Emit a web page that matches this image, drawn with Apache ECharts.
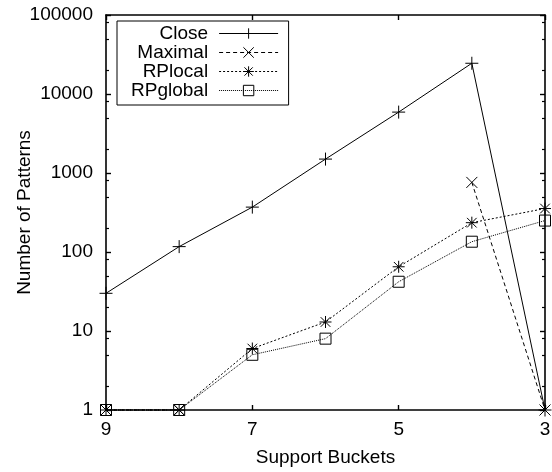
<!DOCTYPE html>
<html>
<head>
<meta charset="utf-8">
<script src="https://cdn.jsdelivr.net/npm/echarts@6/dist/echarts.min.js"></script>
<style>
  html, body { margin: 0; padding: 0; background: #fff; }
  #chart { width: 552px; height: 472px; }
</style>
</head>
<body>
<div id="chart"></div>
<script>
// Support bucket on the x axis, pattern counts (log scale) on the y axis
const supportBuckets = [9, 8, 7, 6, 5, 4, 3];
const closeCounts    = [30, 117, 370, 1500, 5900, 24500, 1];
const maximalCounts  = [1, 1, '-', '-', '-', 760, 1];
const rplocalCounts  = [1, 1, 6, 13, 65, 235, 355];
const rpglobalCounts = [1, 1, 5, 8, 42, 135, 250];

const xTickLabels = [9, 7, 5, 3];
const yTickLabels = [1, 10, 100, 1000, 10000, 100000];
const yMinorTicks = [2, 5, 8, 20, 50, 80, 200, 500, 800, 2000, 5000, 8000, 20000, 50000, 80000];

const FONT = 'Liberation Sans, Arial, Helvetica, sans-serif';
const FS = 19;

const SYM_PLUS = 'path://M0,5H10M5,0V10';
const SYM_CROSS = 'path://M0,0L10,10M10,0L0,10';
const SYM_STAR = 'path://M0,5H10M5,0V10M1,1L9,9M9,1L1,9';
const SYM_SQUARE = 'path://M0,0H10V10H0Z';

function pairs(values) {
  return supportBuckets.map((x, i) => [x, values[i]]);
}

function lineSeries(name, values, symbol, size, dash) {
  return {
    name: name,
    type: 'line',
    data: pairs(values),
    symbol: symbol,
    symbolSize: size,
    showSymbol: true,
    clip: false,
    connectNulls: false,
    lineStyle: { color: '#000', width: 1, type: dash },
    itemStyle: { color: 'rgba(0,0,0,0)', borderColor: '#000', borderWidth: 1 },
    emphasis: { disabled: true },
    z: 3
  };
}

const chart = echarts.init(document.getElementById('chart'), null, { renderer: 'canvas' });

const axisLine = { show: true, lineStyle: { color: '#000', width: 1.6 } };
const majorTick = { show: true, inside: true, length: 5, lineStyle: { color: '#000', width: 1.4 } };
const minorTick = { show: true, inside: true, length: 3, customValues: yMinorTicks, lineStyle: { color: '#000', width: 1.2 } };

const option = {
  animation: false,
  backgroundColor: '#fff',
  textStyle: { fontFamily: FONT },
  grid: { left: 106, top: 15, width: 439, height: 395, outerBoundsMode: 'none' },
  legend: {
    orient: 'vertical',
    left: 117,
    top: 21,
    align: 'right',
    itemWidth: 59,
    itemHeight: 13,
    itemGap: 0,
    padding: [3, 10, 5, 14],
    borderColor: '#000',
    borderWidth: 1,
    selectedMode: false,
    lineStyle: { color: '#000', width: 1 },
    itemStyle: { color: 'rgba(0,0,0,0)', borderColor: '#000', borderWidth: 1 },
    textStyle: { fontFamily: FONT, fontSize: FS, color: '#000', lineHeight: 18.7, padding: [0, 6, 0, 0] },
    data: ['Close', 'Maximal', 'RPlocal', 'RPglobal']
  },
  xAxis: [
    {
      type: 'value',
      min: 3, max: 9, interval: 2,
      inverse: true,
      position: 'bottom',
      name: 'Support Buckets',
      nameLocation: 'middle',
      nameGap: 38,
      nameMoveOverlap: false,
      nameTextStyle: { fontFamily: FONT, fontSize: FS, color: '#000' },
      axisLine: axisLine,
      axisTick: majorTick,
      axisLabel: {
        show: true, margin: 10, fontFamily: FONT, fontSize: FS, color: '#000',
        customValues: xTickLabels
      },
      splitLine: { show: false }
    },
    {
      type: 'value',
      min: 3, max: 9, interval: 2,
      inverse: true,
      position: 'top',
      axisLine: axisLine,
      axisTick: majorTick,
      axisLabel: { show: false },
      splitLine: { show: false }
    }
  ],
  yAxis: [
    {
      type: 'log',
      min: 1, max: 100000, logBase: 10,
      position: 'left',
      name: 'Number of Patterns',
      nameLocation: 'middle',
      nameGap: 72,
      nameRotate: 90,
      nameMoveOverlap: false,
      nameTextStyle: { fontFamily: FONT, fontSize: FS, color: '#000' },
      axisLine: axisLine,
      axisTick: majorTick,
      axisLabel: {
        show: true, margin: 13, fontFamily: FONT, fontSize: FS, color: '#000',
        customValues: yTickLabels,
        formatter: v => String(Math.round(v))
      },
      splitLine: { show: false }
    },
    {
      type: 'log',
      min: 1, max: 100000, logBase: 10,
      position: 'left',
      axisLine: { show: false },
      axisTick: minorTick,
      axisLabel: { show: false },
      splitLine: { show: false }
    },
    {
      type: 'log',
      min: 1, max: 100000, logBase: 10,
      position: 'right',
      axisLine: axisLine,
      axisTick: majorTick,
      axisLabel: { show: false },
      splitLine: { show: false }
    },
    {
      type: 'log',
      min: 1, max: 100000, logBase: 10,
      position: 'right',
      axisLine: { show: false },
      axisTick: minorTick,
      axisLabel: { show: false },
      splitLine: { show: false }
    }
  ],
  series: [
    lineSeries('Close', closeCounts, SYM_PLUS, 13, 'solid'),
    lineSeries('Maximal', maximalCounts, SYM_CROSS, 11, [4, 3]),
    lineSeries('RPlocal', rplocalCounts, SYM_STAR, 12, [2, 2]),
    lineSeries('RPglobal', rpglobalCounts, SYM_SQUARE, 11, [1, 1])
  ]
};

chart.setOption(option);
</script>
</body>
</html>
